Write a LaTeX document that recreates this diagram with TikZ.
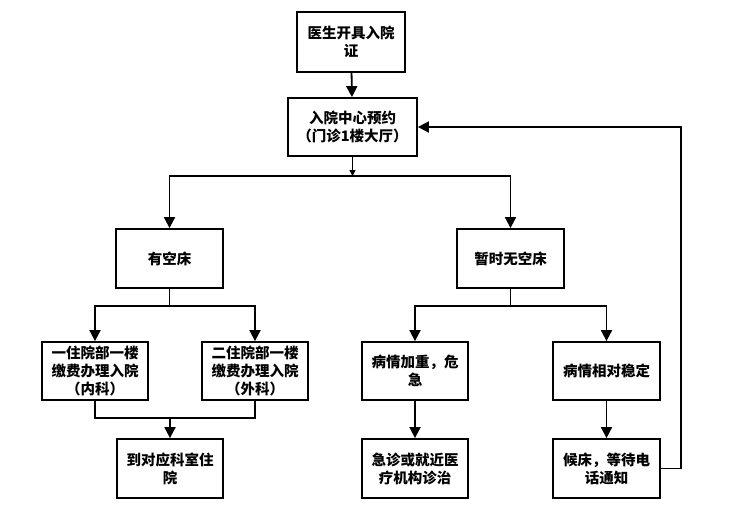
\documentclass[tikz,border=0pt]{standalone}
\usepackage{fontspec}
\newfontfamily\cjk{Noto Sans CJK SC}
\usetikzlibrary{arrows.meta}
\tikzset{
  box/.style={draw, line width=1.8pt, minimum width=107pt, minimum height=59pt, align=center, inner sep=2pt,
    font=\cjk\bfseries\fontsize{14.5}{18}\selectfont},
  conn/.style={line width=1.8pt},
  arr/.style={conn, -{Triangle[width=11pt,length=11pt]}},
  sarr/.style={conn, -{Triangle[width=6pt,length=6pt]}}
}
\begin{document}
\begin{tikzpicture}[x=1pt,y=-1pt]
\useasboundingbox (0,0) rectangle (754,517);
\node[box, minimum width=108pt, minimum height=60pt] (a) at (351,42) {医生开具入院\\证};
\node[box, minimum width=129pt, minimum height=58pt] (b) at (352.5,127) {入院中心预约\\（门诊1楼大厅）};
\node[box] (c) at (169.5,258.5) {有空床};
\node[box] (d) at (510.5,258.5) {暂时无空床};
\node[box, minimum width=106pt, minimum height=58pt] (e) at (95,371) {一住院部一楼\\缴费办理入院\\（内科）};
\node[box, minimum width=106pt, minimum height=58pt] (f) at (255,371) {二住院部一楼\\缴费办理入院\\（外科）};
\node[box, minimum width=106pt] (g) at (170,468.5) {到对应科室住\\院};
\node[box, minimum width=106pt, minimum height=58pt] (h) at (415,371) {病情加重，危\\急};
\node[box, minimum width=107pt, minimum height=58pt] (i) at (606.5,371) {病情相对稳定};
\node[box, minimum width=106pt] (j) at (415,468.5) {急诊或就近医\\疗机构诊治};
\node[box] (k) at (606.5,468.5) {候床，等待电\\话通知};

\coordinate (jb) at (352.5,176);
\coordinate (jc) at (169.5,306);
\coordinate (jd) at (510.5,306);
\coordinate (jg) at (170,418);
\coordinate (fb) at (681,0);

\draw[arr] (a) -- (b);
\draw[sarr] (b) -- (jb);
\draw[arr] (jb) -| (c);
\draw[arr] (jb) -| (d);
\draw[conn] (c) -- (jc);
\draw[arr] (jc) -| (e);
\draw[arr] (jc) -| (f);
\draw[conn] (e.south) |- (jg) -| (f.south);
\draw[arr] (jg) -- (g);
\draw[conn] (d) -- (jd);
\draw[arr] (jd) -| (h);
\draw[arr] (jd) -| (i);
\draw[arr] (h) -- (j);
\draw[arr] (i) -- (k);
\draw[arr] (k.east) -- (k.east -| fb) |- (b.east);
\end{tikzpicture}
\end{document}
